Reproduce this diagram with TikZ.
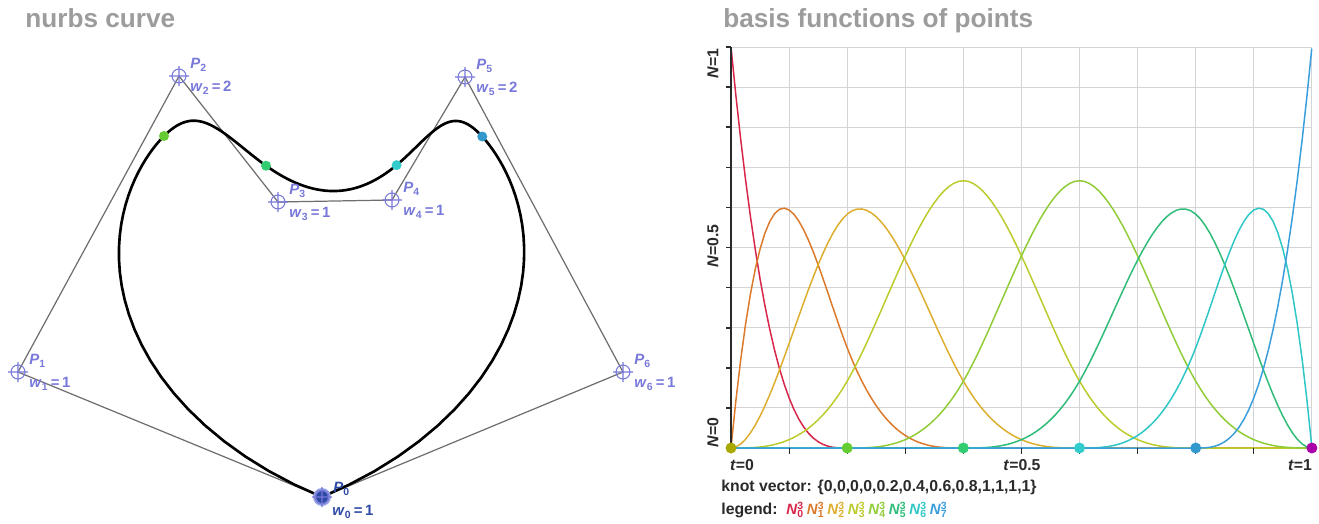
\documentclass[tikz,border=0pt]{standalone}
\usepackage{fontspec}
\setmainfont{Liberation Sans}
\usetikzlibrary{calc}
\definecolor{ptblue}{HTML}{7878DA}
\definecolor{ptdark}{HTML}{2E4AA6}
\definecolor{ptlight}{HTML}{9AA6E4}
\definecolor{polygray}{HTML}{6E6E6E}
\definecolor{titlegray}{HTML}{9C9C9C}
\definecolor{gridgray}{HTML}{D4D4D8}
\definecolor{axisdark}{HTML}{2A2A2A}
\definecolor{bcol0}{HTML}{D8264A}
\definecolor{bcol1}{HTML}{DC7A2C}
\definecolor{bcol2}{HTML}{DDAE2E}
\definecolor{bcol3}{HTML}{BCCB2C}
\definecolor{bcol4}{HTML}{90CC36}
\definecolor{bcol5}{HTML}{2EBC78}
\definecolor{bcol6}{HTML}{2EC6C6}
\definecolor{bcol7}{HTML}{3A9EDC}
\definecolor{kd0}{HTML}{A8A800}
\definecolor{kd1}{HTML}{66CC33}
\definecolor{kd2}{HTML}{33CC70}
\definecolor{kd3}{HTML}{33CCCC}
\definecolor{kd4}{HTML}{3399CC}
\definecolor{kd5}{HTML}{AA00AA}
\newcommand\bname[1]{\textit{N}\rlap{\textsuperscript{3}}\textsubscript{#1}}
\tikzset{
  declare function={
    cub(\u)=max(\u,0)*max(\u,0)*max(\u,0);
    bsp(\u)=(abs(\u)<1)*(4-6*\u*\u+3*abs(\u)*\u*\u)/6+(abs(\u)>=1)*cub(2-abs(\u))/6;
    bzero(\s)=cub(1-\s);
    bone(\s)=(\s<1)*(3*\s-4.5*\s*\s+1.75*\s*\s*\s)+(\s>=1)*cub(2-\s)/4;
    btwo(\s)=(\s<1)*(1.5*\s*\s-0.916667*\s*\s*\s)+(\s>=1)*(\s<2)*(-1.5+4.5*\s-3*\s*\s+0.583333*\s*\s*\s)+(\s>=2)*cub(3-\s)/6;
    bthree(\s)=bsp(\s-2);
    bfour(\s)=bsp(\s-3);
    bfive(\s)=btwo(5-\s);
    bsix(\s)=bone(5-\s);
    bseven(\s)=cub(\s-4);
    wsum(\s)=bzero(\s)+bone(\s)+2*btwo(\s)+bthree(\s)+bfour(\s)+2*bfive(\s)+bsix(\s)+bseven(\s);
    cx(\s)=(322*bzero(\s)+18*bone(\s)+358*btwo(\s)+278*bthree(\s)+392*bfour(\s)+930*bfive(\s)+623*bsix(\s)+322*bseven(\s))/wsum(\s);
    cy(\s)=(497*bzero(\s)+372*bone(\s)+152*btwo(\s)+202*bthree(\s)+200*bfour(\s)+154*bfive(\s)+372*bsix(\s)+497*bseven(\s))/wsum(\s);
  },
  ttl/.style={anchor=base west,inner sep=0pt,text=titlegray,font=\fontsize{14.9}{17}\selectfont\bfseries},
  plab/.style={anchor=west,inner sep=0pt,text=ptblue,font=\fontsize{8.5}{10}\selectfont\bfseries},
  axlab/.style={inner sep=0pt,text=axisdark,font=\fontsize{9}{10}\selectfont\bfseries},
  poly/.style={draw=polygray,line width=0.7pt},
  nurbs/.style={draw=black,line width=1.5pt},
  ctrl/.style={draw=ptblue,line width=0.6pt},
  gridline/.style={draw=gridgray,line width=0.6pt},
  basis/.style={line width=0.85pt},
  axisline/.style={draw=axisdark,line width=0.9pt},
  ctrlmark/.pic={\draw[ctrl] (0,0) circle (7) (-10,0) -- (10,0) (0,-10) -- (0,10);},
}
\begin{document}
\begin{tikzpicture}[x=0.02cm,y=-0.02cm]
  \useasboundingbox (0,0) rectangle (1319,524);
  \node[ttl] (ttlcurve) at (25,28) {nurbs curve};
  \node[ttl] (ttlbasis) at (723,28) {basis functions of points};

  \coordinate (P0) at (322,497);
  \foreach \n/\px/\py in {1/18/372,2/179/76,3/278/202,4/392/200,5/465/77,6/623/372}
    \coordinate (P\n) at (\px,\py);
  \draw[poly] (P0) -- (P1) -- (P2) -- (P3) -- (P4) -- (P5) -- (P6) -- cycle;
  \draw[nurbs] plot[domain=0:5,samples=161] ({cx(\x)},{cy(\x)});
  \foreach \k/\c in {1/kd1,2/kd2,3/kd3,4/kd4}
    \fill[\c] ({cx(\k)},{cy(\k)}) circle (5);
  \foreach \n in {1,...,6}
    \pic at (P\n) {ctrlmark};
  \fill[ptlight] (P0) circle (9);
  \fill[ptdark] (P0) circle (6);
  \pic at (P0) {ctrlmark};
  \foreach \n/\w in {1/1,2/2,3/1,4/1,5/2,6/1} {
    \node[plab] (pname\n) at ([shift={(11,-11)}]P\n) {\textit{P}\textsubscript{\n}};
    \node[plab] (wname\n) at ([shift={(11,12)}]P\n) {\textit{w}\textsubscript{\n}\,=\,\w};
  }
  \node[plab,text=ptdark] (pname0) at ([shift={(11,-8)}]P0) {\textit{P}\textsubscript{0}};
  \node[plab,text=ptdark] (wname0) at ([shift={(10,15)}]P0) {\textit{w}\textsubscript{0}\,=\,1};

  \begin{scope}[shift={(731,448)},x=11.62cm,y=8.02cm]
    \foreach \k in {1,...,10}
      \draw[gridline] (\k/10,0) -- (\k/10,1) (0,\k/10) -- (1,\k/10);
    \foreach \f [count=\i from 0] in {bzero,bone,btwo,bthree,bfour,bfive,bsix,bseven}
      \draw[basis,bcol\i] plot[domain=0:1,samples=121] (\x,{\f(5*\x)});
    \draw[axisline] (0,0) -- (0,1);
    \foreach \k in {0,...,10}
      \draw[axisline] (0,\k/10) -- ++(-0.1cm,0);
    \foreach \k in {1,...,9}
      \draw[axisline,line width=0.6pt] (\k/10,0) -- ++(0,-0.12cm);
    \foreach \k/\c in {0/kd0,0.2/kd1,0.4/kd2,0.6/kd3,0.8/kd4,1/kd5}
      \fill[\c] (\k,0) circle (0.11cm);
  \end{scope}
  \node[axlab,rotate=90,anchor=east] (nmax) at (713,48) {\textit{N}=1};
  \node[axlab,rotate=90] (nhalf) at (713,246) {\textit{N}=0.5};
  \node[axlab,rotate=90,anchor=west] (nmin) at (713,448) {\textit{N}=0};
  \node[axlab] (tmin) at (742,465) {\textit{t}=0};
  \node[axlab] (thalf) at (1022,465) {\textit{t}=0.5};
  \node[axlab] (tmax) at (1300,465) {\textit{t}=1};
  \node[axlab,anchor=west] (knots) at (721,487) {knot vector: \{0,0,0,0,0.2,0.4,0.6,0.8,1,1,1,1\}};
  \node[axlab,anchor=west] (legend) at (721,510) {legend:};
  \foreach \i in {0,...,7}
    \node[axlab,anchor=west,text=bcol\i,font=\fontsize{8.5}{10}\selectfont\bfseries] (leg\i) at (786+20.5*\i,510) {\bname{\i}};
\end{tikzpicture}
\end{document}
